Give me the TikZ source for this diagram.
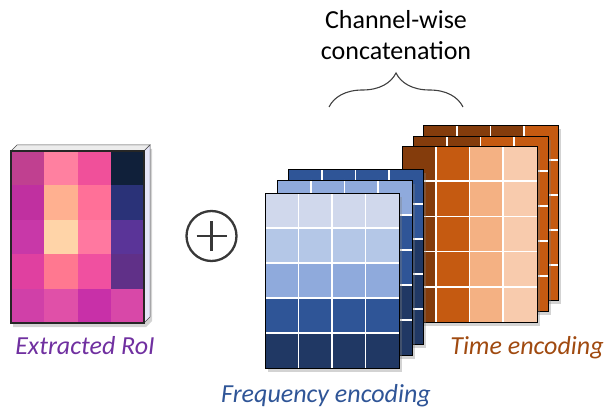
\documentclass[tikz,border=0pt]{standalone}
\usepackage{fontspec}
\setmainfont{Carlito}
\usetikzlibrary{shadows,decorations.pathreplacing}
\definecolor{bA}{HTML}{D0D8EC}
\definecolor{bB}{HTML}{B4C7E7}
\definecolor{bC}{HTML}{8FAADC}
\definecolor{bD}{HTML}{2F5597}
\definecolor{bE}{HTML}{203864}
\definecolor{oA}{HTML}{843C0C}
\definecolor{oB}{HTML}{C55A11}
\definecolor{oC}{HTML}{F4B183}
\definecolor{oD}{HTML}{F8CBAD}
\definecolor{rA}{HTML}{C04090}
\definecolor{rB}{HTML}{FF80A0}
\definecolor{rC}{HTML}{F0509A}
\definecolor{rD}{HTML}{10203A}
\definecolor{rE}{HTML}{C030A0}
\definecolor{rF}{HTML}{FFB090}
\definecolor{rG}{HTML}{FF7098}
\definecolor{rH}{HTML}{2A3278}
\definecolor{rI}{HTML}{C838A8}
\definecolor{rJ}{HTML}{FFD4A8}
\definecolor{rK}{HTML}{FF78A0}
\definecolor{rL}{HTML}{5A3498}
\definecolor{rM}{HTML}{E040A0}
\definecolor{rN}{HTML}{FF7890}
\definecolor{rO}{HTML}{F050A0}
\definecolor{rP}{HTML}{603088}
\definecolor{rQ}{HTML}{D040A8}
\definecolor{rR}{HTML}{E050A8}
\definecolor{rS}{HTML}{C830A8}
\definecolor{rT}{HTML}{D848A8}
\definecolor{roiText}{HTML}{7030A0}
\definecolor{freqText}{HTML}{2F5597}
\definecolor{timeText}{HTML}{A04A10}
\tikzset{
  sheetshadow/.style={fill=white,drop shadow={shadow xshift=3pt,shadow yshift=-4pt,opacity=0.35}},
  gridline/.style={white,line width=1.6pt},
  sheetborder/.style={draw=black,line width=0.9pt},
  lbl/.style={font=\fontsize{26}{29}\selectfont\itshape,inner sep=0pt}
}
% #1 x, #2 y, #3 cell w, #4 cell h, #5 rows a/b/c/d list
\newcommand\mysheet[5]{%
  \path[sheetshadow] (#1,#2) rectangle ++(4*#3,5*#4);
  \foreach \ca/\cb/\cc/\cd [count=\r from 0] in {#5}{%
    \fill[\ca] (#1,#2+\r*#4) rectangle ++(#3,#4);
    \fill[\cb] (#1+#3,#2+\r*#4) rectangle ++(#3,#4);
    \fill[\cc] (#1+2*#3,#2+\r*#4) rectangle ++(#3,#4);
    \fill[\cd] (#1+3*#3,#2+\r*#4) rectangle ++(#3,#4);
  }%
  \foreach \k in {1,2,3}{\draw[gridline] (#1+\k*#3,#2) -- ++(0,5*#4);}%
  \foreach \k in {1,2,3,4}{\draw[gridline] (#1,#2+\k*#4) -- ++(4*#3,0);}%
  \draw[sheetborder] (#1,#2) rectangle ++(4*#3,5*#4);
}
\begin{document}
\begin{tikzpicture}[x=1pt,y=-1pt]
\useasboundingbox (0,0) rectangle (609,411);

% ---- Extracted RoI ----
\path[fill=white,drop shadow={shadow xshift=2pt,shadow yshift=-4pt,opacity=0.35}]
  (11,151) -- (17,145) -- (150,145) -- (150,317) -- (144,323) -- (11,323) -- cycle;
\filldraw[fill=gray!15,draw=black!70,line width=0.5pt] (11,151) -- (17,145) -- (150,145) -- (144,151) -- cycle;
\filldraw[fill=black!28!blue!10!white,draw=black!70,line width=0.5pt] (144,151) -- (150,145) -- (150,317) -- (144,323) -- cycle;
\foreach \ca/\cb/\cc/\cd [count=\r from 0] in {rA/rB/rC/rD,rE/rF/rG/rH,rI/rJ/rK/rL,rM/rN/rO/rP,rQ/rR/rS/rT}{
  \fill[\ca] (11,151+\r*34.4) rectangle ++(33.25,34.4);
  \fill[\cb] (44.25,151+\r*34.4) rectangle ++(33.25,34.4);
  \fill[\cc] (77.5,151+\r*34.4) rectangle ++(33.25,34.4);
  \fill[\cd] (110.75,151+\r*34.4) rectangle ++(33.25,34.4);
}
\draw[black!85,line width=1.2pt] (11,151) rectangle (144,323);
\node[lbl,text=roiText] (roi) at (85,346) {Extracted RoI};

% ---- plus ----
\node[circle,draw=black!78,line width=2.3pt,minimum size=50pt,inner sep=0pt] (plus) at (211.5,236) {};
\draw[black!78,line width=2.3pt] ([xshift=-15pt]plus.center) -- ([xshift=15pt]plus.center);
\draw[black!78,line width=2.3pt] ([yshift=-15pt]plus.center) -- ([yshift=15pt]plus.center);

% ---- Time encoding stack ----
\mysheet{423}{125}{33.75}{35}{oA/oA/oA/oB,oA/oA/oA/oB,oA/oA/oA/oB,oA/oA/oA/oB,oA/oA/oA/oB}
\mysheet{413}{136}{33.75}{35}{oA/oA/oB/oB,oA/oA/oB/oB,oA/oA/oB/oB,oA/oA/oB/oB,oA/oA/oB/oB}
\mysheet{402}{146}{33.75}{35.2}{oA/oB/oC/oD,oA/oB/oC/oD,oA/oB/oC/oD,oA/oB/oC/oD,oA/oB/oC/oD}

% ---- Frequency encoding stack ----
\mysheet{288}{169}{33.75}{35}{bD/bD/bD/bD,bD/bD/bD/bD,bE/bE/bE/bE,bE/bE/bE/bE,bE/bE/bE/bE}
\mysheet{277}{180}{33.75}{35}{bC/bC/bC/bC,bD/bD/bD/bD,bD/bD/bD/bD,bE/bE/bE/bE,bE/bE/bE/bE}
\mysheet{265}{193}{33.5}{35}{bA/bA/bA/bA,bB/bB/bB/bB,bC/bC/bC/bC,bD/bD/bD/bD,bE/bE/bE/bE}

\node[lbl,text=freqText] (freq) at (326,396) {Frequency encoding};
\node[lbl,text=timeText] (time) at (527,348) {Time encoding};

% ---- brace and title ----
\coordinate (bl) at (329,107);
\coordinate (br) at (463,107);
\draw[black!75,line width=1.1pt,decorate,decoration={brace,amplitude=34pt,aspect=0.5}] (bl) -- (br);
\node[font=\fontsize{26}{31}\selectfont,align=center,inner sep=0pt] (title) at (396,35) {Channel-wise\\concatenation};
\end{tikzpicture}
\end{document}
